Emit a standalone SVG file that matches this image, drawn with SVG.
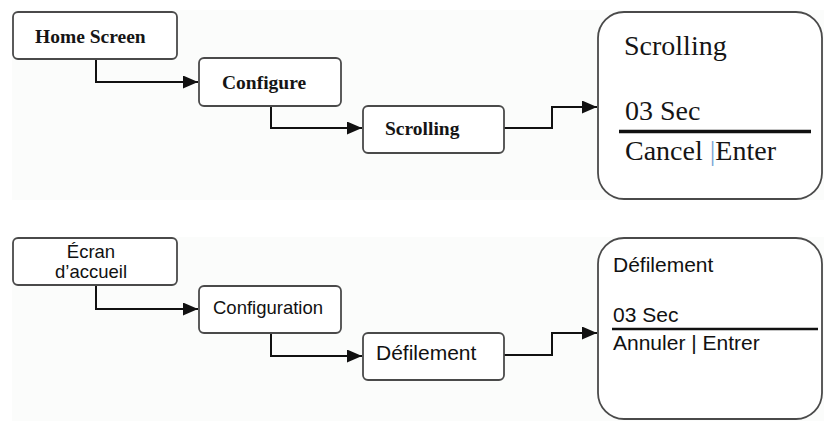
<svg xmlns="http://www.w3.org/2000/svg" width="824" height="421" viewBox="0 0 824 421">
<style>
.bg{fill:#fbfcfb;stroke:none}
.box{fill:#ffffff;stroke:#4a4a4a;stroke-width:1.8}
.conn{fill:none;stroke:#111;stroke-width:2}
.ser{font-family:"Liberation Serif","Times New Roman",serif;fill:#151515}
.sb{font-weight:bold;font-size:19.5px}
.big{font-size:28px}
.san{font-family:"Liberation Sans",Arial,sans-serif;fill:#111}
</style>
<defs>
<marker id="ah" markerWidth="15" markerHeight="13" refX="15" refY="6.5" orient="auto" markerUnits="userSpaceOnUse">
<path d="M0,0 L15,6.5 L0,13 Z" fill="#111"/>
</marker>
</defs>
<rect class="bg" x="12" y="10" width="812" height="190"/>
<rect class="bg" x="12" y="237" width="812" height="184"/>
<g id="connectors">
<path class="conn" d="M96,59 V82 H198" marker-end="url(#ah)"/>
<path class="conn" d="M271,106 V128 H362" marker-end="url(#ah)"/>
<path class="conn" d="M504,128 H552 V107 H597" marker-end="url(#ah)"/>
<path class="conn" d="M96,285 V309 H198" marker-end="url(#ah)"/>
<path class="conn" d="M271,333 V356 H362" marker-end="url(#ah)"/>
<path class="conn" d="M504,355 H552 V333 H597" marker-end="url(#ah)"/>
</g>
<g id="home-screen">
<rect class="box" x="13" y="12" width="164" height="47" rx="5"/>
<text class="ser sb" x="35" y="43">Home Screen</text>
</g>
<g id="configure">
<rect class="box" x="199" y="58" width="142" height="48" rx="5"/>
<text class="ser sb" x="222" y="89">Configure</text>
</g>
<g id="scrolling">
<rect class="box" x="363" y="106" width="141" height="47" rx="5"/>
<text class="ser sb" x="385" y="135">Scrolling</text>
</g>
<g id="scrolling-screen">
<rect class="box" x="598" y="12" width="224" height="187" rx="26"/>
<text class="ser big" x="624" y="55">Scrolling</text>
<text class="ser big" x="625" y="120">03 Sec</text>
<line x1="619" y1="131.5" x2="811" y2="131.5" stroke="#111" stroke-width="3.5"/>
<text class="ser big" x="625" y="160">Cancel <tspan fill="#7aa6d6">|</tspan>Enter</text>
</g>
<g id="ecran-accueil">
<rect class="box" x="13" y="238" width="164" height="47" rx="5"/>
<text class="san" font-size="18.5" x="91" y="258" text-anchor="middle">Écran</text>
<text class="san" font-size="18.5" x="91" y="278" text-anchor="middle">d’accueil</text>
</g>
<g id="configuration">
<rect class="box" x="199" y="286" width="142" height="47" rx="5"/>
<text class="san" font-size="18.5" x="213" y="314">Configuration</text>
</g>
<g id="defilement">
<rect class="box" x="363" y="333" width="141" height="47" rx="5"/>
<text class="san" font-size="21" x="376" y="360">Défilement</text>
</g>
<g id="defilement-screen">
<rect class="box" x="598" y="238" width="224" height="181" rx="26"/>
<text class="san" font-size="21" x="613" y="272">Défilement</text>
<text class="san" font-size="21" x="613" y="322">03 Sec</text>
<line x1="612" y1="329" x2="818" y2="329" stroke="#111" stroke-width="2.5"/>
<text class="san" font-size="21" x="613" y="350">Annuler | Entrer</text>
</g>
</svg>
